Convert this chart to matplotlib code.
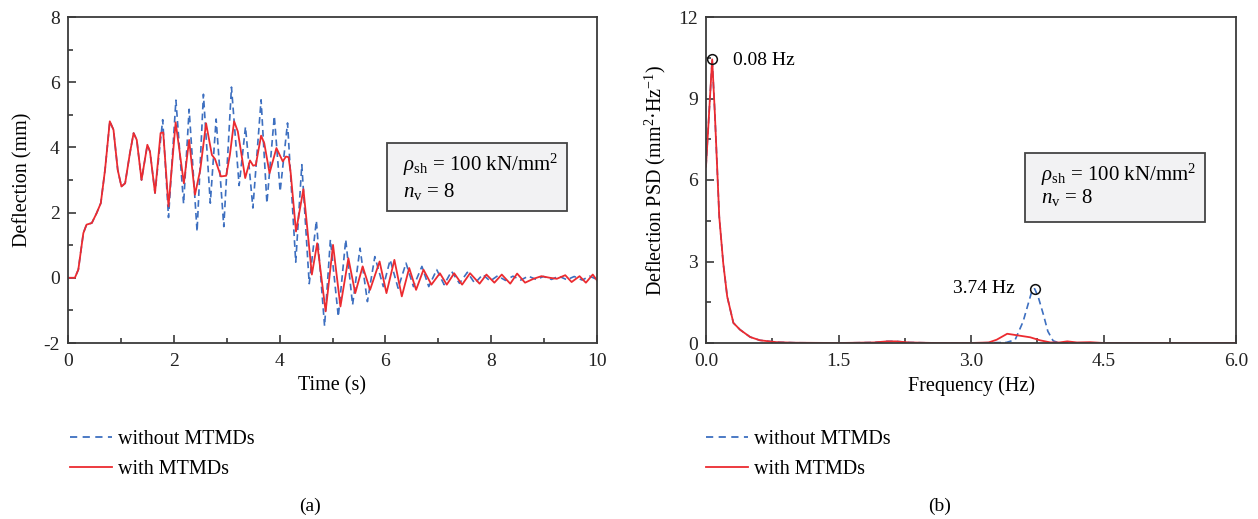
import numpy as np
import matplotlib
matplotlib.use("Agg")
import matplotlib.pyplot as plt
from matplotlib.lines import Line2D
from matplotlib.patches import Rectangle

# ---- data ----
# (a) deflection time history, with MTMDs
red_t = [0, 0.13, 0.195, 0.29, 0.35, 0.45, 0.54, 0.62, 0.70, 0.79, 0.86, 0.94, 1.01, 1.08,
         1.17, 1.24, 1.30, 1.39, 1.50, 1.55, 1.645, 1.75, 1.80, 1.90, 2.035, 2.19, 2.29, 2.40,
         2.50, 2.61, 2.72, 2.78, 2.89, 2.99, 3.06, 3.14, 3.21, 3.35, 3.44, 3.50, 3.55, 3.65,
         3.71, 3.81, 3.94, 4.06, 4.12, 4.17, 4.21, 4.31, 4.45, 4.61, 4.71, 4.87, 5.01, 5.15,
         5.30, 5.43, 5.57, 5.71, 5.89, 6.02, 6.17, 6.31, 6.45, 6.58, 6.72, 6.87, 7.03, 7.16,
         7.30, 7.45, 7.60, 7.78, 7.91, 8.06, 8.20, 8.36, 8.49, 8.64, 8.80, 8.95, 9.11, 9.24,
         9.40, 9.52, 9.67, 9.79, 9.92, 10.0]
red_d = [0, 0, 0.25, 1.37, 1.63, 1.68, 1.98, 2.29, 3.31, 4.80, 4.54, 3.31, 2.80, 2.90,
         3.82, 4.44, 4.23, 3.00, 4.08, 3.87, 2.60, 4.44, 4.46, 2.19, 4.77, 2.90, 4.23, 2.55,
         3.31, 4.74, 3.77, 3.64, 3.11, 3.13, 3.77, 4.80, 4.49, 3.06, 3.60, 3.44, 3.46, 4.36,
         4.13, 3.21, 3.98, 3.57, 3.72, 3.70, 3.21, 1.42, 2.72, 0.10, 1.06, -1.03, 1.01, -0.88,
         0.60, -0.47, 0.35, -0.37, 0.50, -0.47, 0.55, -0.57, 0.30, -0.37, 0.25, -0.21, 0.14, -0.21,
         0.14, -0.21, 0.14, -0.18, 0.10, -0.15, 0.10, -0.18, 0.13, -0.15, -0.03, 0.05, 0.0, -0.03,
         0.08, -0.13, 0.05, -0.15, 0.10, -0.08]

# (a) deflection time history, without MTMDs (same as red until ~1.65 s)
blue_t = [0, 0.13, 0.195, 0.29, 0.35, 0.45, 0.54, 0.62, 0.70, 0.79, 0.86, 0.94, 1.01, 1.08,
          1.17, 1.24, 1.30, 1.39, 1.50, 1.55, 1.645, 1.79, 1.90, 2.04, 2.185, 2.29, 2.44, 2.56,
          2.69, 2.80, 2.945, 3.09, 3.235, 3.355, 3.495, 3.65, 3.76, 3.90, 4.01, 4.15, 4.305,
          4.42, 4.56, 4.695, 4.85, 4.96, 5.11, 5.25, 5.38, 5.52, 5.66, 5.80, 5.96, 6.09, 6.24,
          6.39, 6.53, 6.69, 6.82, 6.97, 7.11, 7.25, 7.40, 7.55, 7.69, 7.84, 7.98, 8.12, 8.27,
          8.41, 8.56, 8.70, 8.85, 8.99, 9.14, 9.28, 9.43, 9.57, 9.72, 9.86, 10.0]
blue_d = [0, 0, 0.25, 1.37, 1.63, 1.68, 1.98, 2.29, 3.31, 4.80, 4.54, 3.31, 2.80, 2.90,
          3.82, 4.44, 4.23, 3.00, 4.08, 3.87, 2.60, 4.85, 1.85, 5.45, 2.27, 5.17, 1.42, 5.63,
          2.29, 4.87, 1.57, 5.85, 2.83, 4.63, 2.14, 5.46, 2.29, 4.96, 2.65, 4.75, 0.48,
          3.47, -0.18, 1.75, -1.48, 1.17, -1.19, 1.17, -0.83, 0.91, -0.73, 0.65, -0.27, 0.55, -0.32,
          0.45, -0.27, 0.35, -0.27, 0.25, -0.21, 0.20, -0.17, 0.17, -0.17, 0.10, -0.10, 0.06, -0.08,
          0.05, -0.07, 0.05, -0.05, 0.04, -0.05, 0.05, -0.06, 0.04, -0.07, 0.05, -0.05]

# (b) deflection PSD
psd_f_red = [0, 0.07, 0.10, 0.15, 0.195, 0.24, 0.31, 0.385, 0.50, 0.61, 0.80, 1.0, 1.5, 1.9,
             2.05, 2.15, 2.3, 2.6, 3.0, 3.2, 3.29, 3.41, 3.55, 3.67, 3.78, 3.90, 4.0, 4.09,
             4.2, 4.35, 4.5, 5.0, 5.5, 6.0]
psd_red = [6.49, 10.44, 8.46, 4.65, 2.94, 1.71, 0.74, 0.49, 0.22, 0.10, 0.03, 0.01, 0.0, 0.02,
           0.06, 0.06, 0.02, 0.0, 0.0, 0.02, 0.12, 0.34, 0.27, 0.21, 0.10, 0.02, 0.02, 0.06,
           0.02, 0.03, 0.0, 0.0, 0.0, 0.0]
psd_f_blue = [0, 0.07, 0.10, 0.15, 0.195, 0.24, 0.31, 0.385, 0.50, 0.61, 0.80, 1.0, 1.5, 1.9,
              2.05, 2.15, 2.3, 2.6, 3.0, 3.40, 3.50, 3.59, 3.65, 3.69, 3.72, 3.76, 3.82, 3.87,
              3.93, 4.0, 4.5, 6.0]
psd_blue = [6.49, 10.44, 8.46, 4.65, 2.94, 1.71, 0.74, 0.49, 0.22, 0.10, 0.03, 0.01, 0.0, 0.02,
            0.06, 0.06, 0.02, 0.0, 0.0, 0.02, 0.12, 0.79, 1.47, 1.92, 2.0, 1.71, 1.04, 0.43,
            0.08, 0.0, 0.0, 0.0]

labels = ["without MTMDs", "with MTMDs"]
BLUE = "#3d6fc0"
RED = "#ec2b30"
AX_COL = "#3a3a3a"

plt.rcParams["font.family"] = ["Liberation Serif", "DejaVu Serif"]
plt.rcParams["mathtext.fontset"] = "custom"
plt.rcParams["mathtext.rm"] = "Liberation Serif"
plt.rcParams["mathtext.it"] = "Liberation Serif:italic"
plt.rcParams["font.size"] = 14
plt.rcParams["axes.unicode_minus"] = False

W, H = 1258, 519
fig = plt.figure(figsize=(W / 100, H / 100), dpi=100)


def px_axes(x0, y0, x1, y1):
    return fig.add_axes([x0 / W, 1 - y1 / H, (x1 - x0) / W, (y1 - y0) / H])


def style(ax):
    for s in ax.spines.values():
        s.set_color(AX_COL)
        s.set_linewidth(1.3)
    ax.tick_params(which="both", direction="in", top=False, right=False, colors=AX_COL,
                   labelcolor="#222222", labelsize=14, width=1.2)
    ax.tick_params(which="major", length=6)
    ax.tick_params(which="minor", length=3.5)
    ax.tick_params(axis="x", which="major", pad=7)
    ax.tick_params(axis="y", which="major", pad=6)


def param_box(ax, x0, y0, x1, y1, ty1, ty2):
    ax.add_patch(Rectangle((x0, y0), x1 - x0, y1 - y0, transform=ax.transAxes,
                           facecolor="#f2f2f3", edgecolor="#444444", linewidth=1.3, zorder=5))
    ax.text(x0 + 0.03, ty1, r"$\rho_{\rm sh}$ = 100 kN/mm$^{2}$", transform=ax.transAxes,
            fontsize=15, va="center", ha="left", zorder=6)
    ax.text(x0 + 0.03, ty2, r"$n_{\rm v}$ = 8", transform=ax.transAxes,
            fontsize=15, va="center", ha="left", zorder=6)


def add_legend(x_line, y_top):
    handles = [Line2D([], [], color=BLUE, ls=(0, (4, 3)), lw=1.3),
               Line2D([], [], color=RED, lw=1.3)]
    fig.legend(handles, labels, loc="upper left", bbox_to_anchor=(x_line / W, 1 - y_top / H),
               frameon=False, fontsize=14.5, handlelength=2.1, handletextpad=0.3,
               labelspacing=0.55, borderpad=0, borderaxespad=0)


# ---- (a) time history ----
ax1 = px_axes(68, 17, 597, 343)
ax1.plot(blue_t, blue_d, color=BLUE, ls=(0, (4, 2.5)), lw=1.2)
ax1.plot(red_t, red_d, color=RED, lw=1.3)
ax1.set_xlim(0, 10)
ax1.set_ylim(-2, 8)
ax1.set_xticks(np.arange(0, 11, 2))
ax1.set_xticks(np.arange(1, 10, 2), minor=True)
ax1.set_yticks(np.arange(-2, 9, 2))
ax1.set_yticks(np.arange(-1, 8, 2), minor=True)
style(ax1)
ax1.set_xlabel("Time (s)", fontsize=14.5, labelpad=5)
ax1.set_ylabel("Deflection (mm)", fontsize=14.5, labelpad=8)
param_box(ax1, 0.603, 0.405, 0.943, 0.613, 0.545, 0.466)
add_legend(70, 430)
fig.text(310 / W, 1 - 506 / H, "(a)", fontsize=14, ha="center", va="center")

# ---- (b) PSD ----
ax2 = px_axes(706, 17, 1236, 343)
ax2.plot(psd_f_blue, psd_blue, color=BLUE, ls=(0, (4, 2.5)), lw=1.2)
ax2.plot(psd_f_red, psd_red, color=RED, lw=1.3)
ax2.set_xlim(0, 6)
ax2.set_ylim(0, 12)
ax2.set_xticks(np.arange(0, 6.01, 1.5))
ax2.set_xticks(np.arange(0.75, 6, 1.5), minor=True)
ax2.set_yticks(np.arange(0, 12.01, 3))
ax2.set_yticks(np.arange(1.5, 12, 3), minor=True)
ax2.xaxis.set_major_formatter(matplotlib.ticker.FormatStrFormatter("%.1f"))
style(ax2)
ax2.set_xlabel("Frequency (Hz)", fontsize=14.5, labelpad=5)
ax2.set_ylabel(r"Deflection PSD (mm$^{2}$·Hz$^{-1}$)", fontsize=14.5, labelpad=7)

i_low = int(np.argmax(psd_red))
i_high = int(np.argmax(psd_blue[19:])) + 19
ax2.plot([psd_f_red[i_low], psd_f_blue[i_high]], [psd_red[i_low], psd_blue[i_high]], "o",
         mfc="none", mec="#111111", ms=7, mew=1.1, zorder=7)
ax2.annotate("0.08 Hz", (psd_f_red[i_low], psd_red[i_low]), xytext=(15, -1),
             textcoords="offset points", fontsize=14, va="center", ha="left")
ax2.annotate("3.74 Hz", (psd_f_blue[i_high], psd_blue[i_high]), xytext=(-14, 0),
             textcoords="offset points", fontsize=14, va="center", ha="right")
param_box(ax2, 0.602, 0.371, 0.942, 0.583, 0.515, 0.445)
add_legend(706, 430)
fig.text(940 / W, 1 - 506 / H, "(b)", fontsize=14, ha="center", va="center")

fig.savefig("out.png", dpi=100)
